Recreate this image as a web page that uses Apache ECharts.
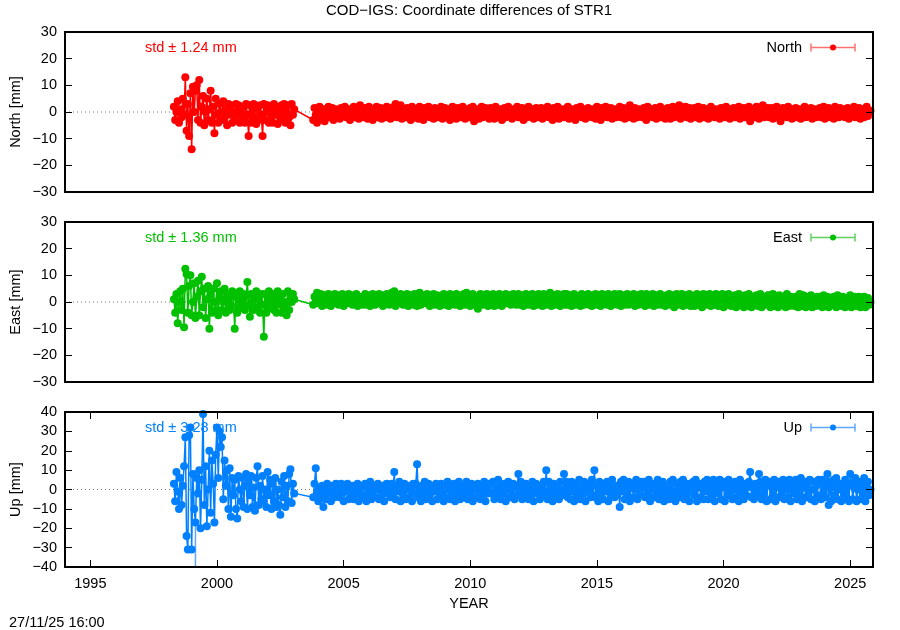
<!DOCTYPE html>
<html><head><meta charset="utf-8">
<script src="https://cdn.jsdelivr.net/npm/echarts@6/dist/echarts.min.js"></script>
<style>html,body{margin:0;padding:0;background:#fff}#c{width:900px;height:630px}</style>
</head><body><div id="c"></div>
<script>
// ---------- DATA ----------
const xTicks = [1995, 2000, 2005, 2010, 2015, 2020, 2025];
const components = ['North', 'East', 'Up'];
const stdLabels = ['std \u00b1 1.24 mm', 'std \u00b1 1.36 mm', 'std \u00b1 3.28 mm'];
const earlyStart = 1998.30, earlyStep = 0.05;
const lateStart = 2003.80, lateStep = 0.05;

const northEarly = [2, -3, 0, 4, -4, 1, -2, 5, -1, 13,
 -7, 3, -9, 7, -14, 9.5, 0, 8, 10, -3,
 12, -4, 2, 6, -5, 0, 5, -3, 1, 8,
 -4, 2, -8, 5, -1, -4, 3, 0, -3, 4,
 -2, 1, -5, 3, -1, 2.5, -4, 0, -3, 3,
 -1, 2.5, -4, 0, 2, -2.5, -4, 3, -1, -9,
 2.5, -4, 0.5, 3, -2, -4.5, 1, -3, 2.5, -1,
 -9, 3, -3, 0, 2.5, -4, 1, -2, -4, 3,
 -1, 2, -4.5, 0.5, -3, 2.5, -1.5, 3, -4, 0,
 2.5, -2, -5, 3, -1, 1];
const northLate = [
 -3, 1.5, -1, -4, 0, 2, -2.5, -0.5, 1, -3.5, 0.5, -1.5, 2, -2, 0, 1.5, -3, -1, 1, -2,
 0.5, -2.5, 1.5, -1, 0, 2, -2, -0.5, 1, -3, 0.5, -1.5, 2, -2, 0, 1, -2.5, 2.5, -1, 0.5,
 -2, 1.5, 0, -2.5, 2, -1, 0.5, -3, 1, -1.5, 2, -2, 0, 1.5, -2.5, -0.5, 1, -2, 2, -1,
 0, -2.5, 1.5, -1, 2, 3, -2, 0.5, -1.5, 2.5, -2.5, 0, 1, -2, 1.5, -1, 0.5, -3, 2, -0.5,
 -2, 1, 0, -2.5, 2, -1.5, 0.5, -3, 1.5, -1, 0, 2, -2, -0.5, 1, -2.5, 1.5, 0, -2, 1,
 -1, 2, -2.5, 0, 1.5, -2, -0.5, 1, -3, 0.5, 2, -1.5, 0, -2.5, 1.5, -1, 0.5, -2, 2, -0.5,
 -2.5, 1, 0, -2, 1.5, -1, 2, -3.5, 0, -1.5, 1, -2.5, 0.5, 2, -2, -0.5, 1.5, -1, 0, -2.5,
 1.5, -1, 0, -2.5, 2, -1.5, 0.5, -2, 1, -3, 0, 1.5, -2, -0.5, 2, -1, 0.5, -2.5, 1, -1.5,
 0, 2, -2, 0.5, -1, 1.5, -3, 0, 1, -2, 2, -1.5, -0.5, 1, -2.5, 0.5, 1.5, -2, 0, -1,
 1.5, -2.5, 0, 1, -1.5, 2, -2, -0.5, 0.5, -3, 1.5, -1, 0, 2, -2.5, 0.5, -1, 1, -2, 0,
 -1.5, 2, -2.5, 0.5, 1, -2, 0, -3, 1.5, -1, 0.5, 2, -2, -0.5, 1, -2.5, 0, 1.5, -1.5, 0.5,
 -2, 1, 0, -2.5, 2, -1, 0.5, -3, 1.5, -1.5, 0, 2, -2, 0.5, -1, 1.5, -2.5, 0, 1, -2,
 0.5, -1.5, 2, -2, 0, 1.5, -2.5, -0.5, 1, -2, 2.5, -1, 0, -2.5, 1.5, 0.5, -2, 1, -1, 0,
 -2, 1.5, -0.5, -3, 2, 0, -1.5, 1, -2, 0.5, 1.5, -2.5, 0, -1, 2, -2, 0.5, 1, -2.5, 0,
 1.5, -1, -2.5, 0.5, 2, -2, 0, 1, -1.5, 2.5, -2.5, 0, 1, -1, 2, -2, -0.5, 1.5, -2.5, 0.5,
 -1, 1.5, -2, 0, 2, -2.5, 0.5, -1, 1.5, -2, 0, 1, -2.5, -0.5, 2, -1.5, 0.5, -2, 1, -1,
 0, -2.5, 1.5, -1, 0.5, -2, 2, -1.5, 0, -2.5, 1, -0.5, 1.5, -2, 0, -1, 2, -2.5, 0.5, -1,
 1.5, -2, 0, -1, 2, -3.5, 0.5, -1.5, 1, -2, 2, 0, -2.5, 1, -1, 2.5, -2, 0.5, -1, 1.5,
 -2, 0, 1.5, -2.5, 1, -1, 2, -2, 0.5, -3.5, 0, 1.5, -1.5, 0.5, -2, 2, -1, 0, -2.5, 1,
 -1, 1.5, -2, 0, 1, -2.5, 0.5, -1, 2, -2, 0, 1, -1.5, 1.5, -2.5, 0, 1, -2, 0.5, -1,
 1.5, -2, 0, 2, -2.5, 0.5, -1, 1.5, -2, 0, 1, -2.5, 2, -1, 0.5, -2, 1.5, 0, -1.5, 1,
 -2, 0.5, 1.5, -2.5, 0, 1, -1.5, 2, -2, 0.5, -1, 1.5, -2.5, 0, 1, -2, 0.5, 2, -1.5, 0,
 0.5];

const eastEarly = [1, -4, 3, -8, 0, 4, -3, 5, -9.5, 12.5,
 10.5, -4, 6, 10, -5, 0, 7, -6, 2, 8,
 -5, 4, 9.5, -2, 5, -6, 1, 6, -10, 3,
 -4, 5, 0, -3, 7, -5, 2, 4, -3, 0,
 5, -4, 1, 3, -3, -1, 4, 2, -10, 3,
 -4, 1, 4, -2, 0, 3, -3, 2, 7.5, -1,
 -5.5, 3, 0, -3, 2, 4, -2, 1, -4, 3,
 -1, -13, 3, -4, 1, 4, -2, 0, 3, -3,
 2, -4, 4, -1, 1, -4, 3, -2, 0, -5,
 4, -3, 2, 0, 3, 1];
const eastLate = [
 -1, 2, 0.5, 3.5, -0.5, 1.5, 3, -1.5, 0, 2.5, 1, -1, 3, 0.5, -1.5, 2, 1, 3, -0.5, 1.5,
 -1, 2.5, 0.5, 3, -1.5, 1, 2, -0.5, 3, 0, 1.5, -1, 2.5, 0.5, 3, -1.5, 1, 2, 0, -1,
 2, 3, -1, 0.5, 2.5, -1.5, 1, 3, 0, -1, 2, 1, 3, -0.5, 1.5, -1.5, 2.5, 0, 3, 0.5,
 -1, 2, 3.5, 0, 4, -1.5, 1, 2.5, -0.5, 3, 0.5, -1, 2, 1.5, 3, -1.5, 0, 2.5, 1, -1,
 3, 0.5, -1.5, 2, 3.5, -1, 1, 2.5, 0, -0.5, 3, 1.5, -1.5, 2, 0.5, 3, -1, 1, 2.5, 0,
 -1.5, 2, 1, 3, -1, 0.5, 2.5, -1.5, 3, 1, 0, 2, -1, 3, 0.5, 1.5, -1.5, 2.5, 0, 3,
 -1, 3.5, 0, 2, -1.5, 1.5, 3, 0.5, -1, 2, -2.5, 1, 3, 0, -1, 2.5, 0.5, 3, -1.5, 1,
 2.5, 0, 3, -1.5, 1, 2, -1, 3, 0.5, -1.5, 2, 1, 3, -0.5, 0.5, 2.5, -1, 1.5, 3, 0,
 -1, 2, 3, -1, 0.5, 2.5, -1.5, 1, 3, 0, -1, 2, 1.5, 3, -1.5, 0.5, 2.5, -1, 3, 1,
 2.5, -1.5, 3, 1, -1, 2, 0, 3.5, -1.5, 1.5, 2.5, -1, 0.5, 3, 1, -1.5, 2, 0, 3, -1,
 3, -1, 0.5, 2.5, -1.5, 1, 3, -1, 2, 0, 1.5, -1.5, 3, 0.5, -1, 2.5, 1, 3, -1, 0.5,
 -1.5, 2.5, 1, 3, -1, 0.5, 2, -1.5, 3, 1, 0, 2.5, -1, 3, 0.5, -1.5, 2, 1, 3, -0.5,
 -1, 2, 3, -1.5, 0.5, 2.5, -1, 1.5, 3, -1, 0, 2, 1, 3, -1.5, 0.5, 2.5, -1, 1.5, 3,
 0.5, 2.5, -1.5, 3, 1, -1, 2, 0, 3, -1.5, 1.5, 2.5, -1, 0.5, 3, -1, 2, 1, -1.5, 2.5,
 1.5, 3, -1, 0.5, 2.5, -2, 1, 3, -1, 2, 0, 3, -1.5, 1, 2.5, -1, 0.5, 3, -1.5, 2,
 0, -1.5, 2.5, 3, -1, 1, 2, -2, 3, 0.5, -1, 2.5, 1, 3, -1.5, 0, 2, -1, 3, 1,
 -1.5, 2, 1, 3, -2, 0.5, 2.5, -1, 3, 0, -1.5, 2, 1, 2.5, -2, 0.5, 3, -1, 1.5, 0,
 -2, 2.5, 1, -1.5, 3, 0, -2, 2, 1, -1, 2.5, -1.5, 0.5, 3, -2, 1, 2, -1, 0, 2.5,
 2.5, -2, 0.5, 3, -1.5, 1, 2, -2, 2.5, 0, -1, 2, 1, -2, 3, 0.5, -1.5, 2, 0, -1,
 -1.5, 2, 1, -2, 3, 0, -1.5, 2.5, 0.5, -2, 2, 1, -1, 2.5, -2, 0, 1.5, -1.5, 2, 0.5,
 2, 0, -2, 2.5, 1, -1.5, 2, -2, 1.5, 0, -1, 2, 0.5, -2, 2.5, -1, 1, -1.5, 2, 0,
 -2, 1.5, 0, -1.5, 2.5, -2, 1, -0.5, 2, -1.5, 0.5, 2, -2, 1, -1, 2, -2, 0.5, 1.5, -1,
 0];

const upEarly = [3, -6, 9, -1, -10, 6, -8, 2, 12, 27,
 -24, -31, 28, 32, -31, 8, -10, -17, 6, -2,
 10, -20, 5, 39, -8, 12, -19, 0, 20, -12,
 15, 3, -17, 18, 32, 6, 30, 22, 27, -5,
 15, 2, 10, -10, 11, -14, 6, -3, 5, -10,
 -15, 7, 0, -6, 6, -9, 2, 8, -10, 4,
 -3, 7, -9, 1, -11, 6, 12, -8, 2, -5,
 7, -6, 0, -9, 9, -3, 5, -10, 3, -6,
 6, -9, 0, -8, -13, 4, -4, 7, -9, 2,
 -6, 8, 10.5, -7, 3, -2];
const upLate = [
 -4, 3, 11, -1, -6, 1, -3, 2, -9, 0, -5, 3, -2, 1, -6, 2, -1, -4, 3, -3,
 1, -4, 3, -2, -6, 2, -1, 3, -5, 0, -3, 2, -5, 1, -2, 3, -6, -1, 2, -4,
 -3, 3, -6, 1, -2, 4, -5, -1, 2, -4, 0, 3, -5, 1, -3, 2, -6, 0, 3, -2,
 0, -4, 3, -2, 9, -5, 2, -1, 4, -6, 1, -3, 3, -5, 0, 2, -4, 1, -6, 3,
 -2, 3, 13, -4, 1, -6, 2, -2, 4, -5, 0, 3, -3, 1, -6, 2, -1, 3, -5, 0,
 -3, 3, -1, -6, 2, -4, 4, 0, -5, 2, -2, 3, -6, 1, -3, 4, -5, 0, 2, -4,
 -2, 4, -5, 1, -3, 3, -6, 0, 2, -4, 3, -1, -5, 2, -3, 4, -6, 1, -2, 3,
 3, -2, 4, -5, 1, -3, 5, -1, -5, 2, -2, 3, -6, 0, 4, -4, 1, -3, 3, -5,
 -3, 1, 8, -2, 4, -5, 1, -4, 3, -1, -5, 2, -3, 4, -6, 0, 3, -2, 1, -5,
 2, -3, 4, -1, 10, -5, 4, -2, 0, -6, 3, -1, -4, 2, -5, 4, 0, -3, 8, -2,
 4, -4, 2, -5, 4, -1, -6, 3, 0, -3, 5, -5, 1, -2, 4, -6, 2, -1, 3, -4,
 5, -3, 10, -4, 2, -6, 4, -2, 3, -5, 1, -1, 4, -6, 2, -3, 5, 0, -4, 2,
 -3, 2, -9, 4, -1, 5, -5, 2, -3, 4, -6, 1, 3, -4, 0, 5, -5, 2, -2, 4,
 1, 4, -4, 3, -2, 5, -6, 0, 3, -4, 2, -1, 5, -5, 1, -3, 4, -6, 2, -2,
 2, -5, 4, -1, 5, -3, -6, 3, 0, -4, 4, -2, 5, -5, 1, -3, 3, -6, 2, 0,
 4, -3, 5, -6, 1, 3, -4, 2, -5, 4, -1, 5, -5, 0, 3, -3, 5, -6, 2, -1,
 -2, 5, -5, 1, 4, -6, 2, -3, 5, -1, 3, -5, 0, 4, -4, 2, -6, 5, -2, 1,
 -5, 3, -3, 1, 4, 9, -4, 2, -5, 3, 0, -3, 8, 4, -5, 1, -2, 5, -6, 2,
 4, -5, 2, -3, 5, -6, 1, 4, -4, 3, -2, 5, -5, 0, 3, -4, 5, -6, 2, -1,
 -2, 5, -5, 2, -3, 6, -6, 1, 4, -4, 3, -1, 5, -5, 0, 4, -6, 2, -3, 5,
 3, -5, 5, -1, -4, 2, 8, -8, 4, -6, 1, 5, -3, 6, -5, 0, 3, -6, 2, -2,
 5, -4, 2, -6, 8, 3, -5, 1, 6, -6, 0, 4, -5, 3, -2, 6, -6, 1, 4, -3,
 0];
// long error bar of one Up sample (value, lower end)
const upErrorBar = [[1999.15, -17], [1999.15, -60]];
const yRanges = [[-30, 30], [-30, 30], [-40, 40]];

// ---------- CHART ----------
const colors = ['#ff0000', '#00c000', '#0080ff'];
const lightColors = ['#ff7070', '#60d060', '#60a8ff'];
const FONT = 'Liberation Sans, Arial, sans-serif';
const FS = 14.5;
const L = 65, W = 808;
const tops = [32, 222, 412], heights = [160, 160, 155];

function build(early, late) {
  const d = early.map((v, i) => [earlyStart + i * earlyStep, v]);
  return d.concat(late.map((v, i) => [lateStart + i * lateStep, v]));
}
const datasets = [build(northEarly, northLate), build(eastEarly, eastLate), build(upEarly, upLate)];
const fmt = v => (v < 0 ? '\u2212' + Math.abs(v) : '' + v);

const grid = [], xAxis = [], yAxis = [], series = [], graphic = [];
for (let i = 0; i < 3; i++) {
  grid.push({left: L, width: W, top: tops[i], height: heights[i], containLabel: false});
  const axLine = {show: true, onZero: false, lineStyle: {color: '#000', width: 2}};
  const tick = {show: true, inside: true, length: 7, lineStyle: {color: '#000', width: 1}};
  xAxis.push({type: 'value', gridIndex: i, position: 'bottom', min: 1994.0, max: 2025.9, z: 10,
    axisLine: axLine, splitLine: {show: false},
    axisTick: Object.assign({}, tick, {show: i === 2, customValues: xTicks}),
    axisLabel: {show: i === 2, customValues: xTicks, formatter: v => String(v), margin: 9, color: '#000', fontFamily: FONT, fontSize: FS}});
  xAxis.push({type: 'value', gridIndex: i, position: 'top', min: 1994.0, max: 2025.9, z: 10,
    axisLine: axLine, splitLine: {show: false},
    axisTick: Object.assign({}, tick, {show: i === 2, customValues: xTicks}),
    axisLabel: {show: false, customValues: xTicks}});
  yAxis.push({type: 'value', gridIndex: i, position: 'left', min: yRanges[i][0], max: yRanges[i][1], interval: 10, z: 10,
    axisLine: axLine, splitLine: {show: false}, axisTick: tick,
    axisLabel: {formatter: fmt, margin: 8, color: '#000', fontFamily: FONT, fontSize: FS}});
  yAxis.push({type: 'value', gridIndex: i, position: 'right', min: yRanges[i][0], max: yRanges[i][1], interval: 10, z: 10,
    axisLine: axLine, splitLine: {show: false}, axisTick: tick, axisLabel: {show: false}});

  series.push({type: 'line', xAxisIndex: 2 * i, yAxisIndex: 2 * i, silent: true, z: 1,
    data: [[1994.0, 0], [2025.9, 0]], symbol: 'none',
    lineStyle: {color: '#777', width: 1, type: [1, 3]}});
  if (i === 2) {
    series.push({type: 'line', xAxisIndex: 4, yAxisIndex: 4, silent: true, z: 2, clip: true,
      data: upErrorBar, symbol: 'none', lineStyle: {color: lightColors[2], width: 1.5}});
  }
  series.push({type: 'line', name: components[i], xAxisIndex: 2 * i, yAxisIndex: 2 * i, z: 3,
    data: datasets[i], symbol: 'circle', symbolSize: 8, showAllSymbol: true, clip: true,
    itemStyle: {color: colors[i]}, lineStyle: {color: colors[i], width: 1.5}, silent: true});

  const ly = tops[i] + 15.5;
  graphic.push({type: 'text', x: 802, y: ly, style: {text: components[i], fill: '#000', font: FS + 'px ' + FONT, align: 'right', verticalAlign: 'middle'}, z: 20});
  graphic.push({type: 'line', shape: {x1: 811, y1: ly, x2: 855, y2: ly}, style: {stroke: lightColors[i], lineWidth: 1.5}, z: 20});
  graphic.push({type: 'line', shape: {x1: 811, y1: ly - 4, x2: 811, y2: ly + 4}, style: {stroke: lightColors[i], lineWidth: 1.5}, z: 20});
  graphic.push({type: 'line', shape: {x1: 855, y1: ly - 4, x2: 855, y2: ly + 4}, style: {stroke: lightColors[i], lineWidth: 1.5}, z: 20});
  graphic.push({type: 'circle', shape: {cx: 833, cy: ly, r: 3}, style: {fill: colors[i]}, z: 21});
  graphic.push({type: 'text', x: 145, y: tops[i] + 16, style: {text: stdLabels[i], fill: colors[i], font: FS + 'px ' + FONT, align: 'left', verticalAlign: 'middle'}, z: 20});
  graphic.push({type: 'text', x: 15.5, y: tops[i] + heights[i] / 2, rotation: Math.PI / 2,
    style: {text: components[i] + ' [mm]', fill: '#000', font: FS + 'px ' + FONT, align: 'center', verticalAlign: 'middle'}, z: 20});
}
graphic.push({type: 'text', x: 469, y: 11, style: {text: 'COD\u2212IGS: Coordinate differences of STR1', fill: '#000', font: '15px ' + FONT, align: 'center', verticalAlign: 'middle'}});
graphic.push({type: 'text', x: 469, y: 604, style: {text: 'YEAR', fill: '#000', font: FS + 'px ' + FONT, align: 'center', verticalAlign: 'middle'}});
graphic.push({type: 'text', x: 9, y: 622.5, style: {text: '27/11/25 16:00', fill: '#000', font: FS + 'px ' + FONT, align: 'left', verticalAlign: 'middle'}});

const chart = echarts.init(document.getElementById('c'), null, {renderer: 'canvas'});
chart.setOption({animation: false, backgroundColor: '#fff', grid, xAxis, yAxis, series, graphic});
</script></body></html>
